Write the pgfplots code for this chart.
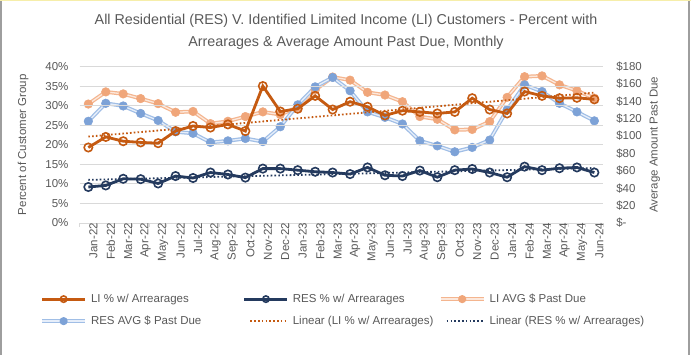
\documentclass[border=0pt]{standalone}
\usepackage{pgfplots}
\usepackage{pgfplotstable}
\pgfplotsset{compat=1.18}
\usepackage{fontspec}
\setmainfont{Liberation Sans}
\definecolor{txt}{RGB}{89,89,89}
\definecolor{grid}{RGB}{217,217,217}
\definecolor{LIc}{RGB}{197,90,17}
\definecolor{RESc}{RGB}{36,58,94}
\definecolor{LIavgO}{RGB}{244,181,143}
\definecolor{LIavgI}{RGB}{252,232,220}
\definecolor{LIavgM}{RGB}{240,166,122}
\definecolor{RESavgO}{RGB}{160,190,230}
\definecolor{RESavgI}{RGB}{230,238,250}
\definecolor{RESavgM}{RGB}{125,162,215}

\pgfplotstableread{
idx LIp RESp LIavg RESavg
0 19.3 9.2 136.8 117.0
1 22.0 9.6 150.8 137.7
2 20.9 11.3 148.5 134.6
3 20.6 11.2 143.1 126.0
4 20.4 10.1 137.3 117.9
5 23.5 12.0 127.4 104.9
6 24.8 11.5 128.3 103.1
7 24.4 12.9 114.3 92.7
8 25.2 12.4 117.0 94.5
9 23.5 11.6 122.4 97.2
10 35.0 13.9 127.8 93.6
11 28.5 13.9 124.7 110.7
12 29.2 13.5 133.2 135.9
13 32.5 13.1 153.0 156.6
14 29.0 12.9 167.9 167.4
15 31.0 12.5 164.3 152.1
16 29.7 14.2 150.3 127.8
17 27.5 12.2 147.2 121.5
18 28.7 12.0 139.5 113.9
19 28.4 13.4 122.4 94.5
20 28.0 11.7 119.3 88.7
21 28.4 13.5 107.1 81.9
22 31.9 13.8 107.6 86.9
23 29.0 12.9 116.6 95.4
24 28.0 11.7 144.5 130.1
25 33.6 14.4 168.3 158.9
26 32.5 13.5 169.2 151.2
27 31.9 14.0 158.9 137.7
28 32.0 14.2 152.1 127.8
29 31.6 12.9 143.6 117.5
}\data

\newcommand{\lblfont}{\fontsize{11.5bp}{13bp}\selectfont}
\pgfplotsset{
  common/.style={
    at={(79.6bp,132bp)}, anchor=south west,
    width=523.5bp, height=156.5bp, scale only axis,
    xmin=-0.5, xmax=29.5,
    axis line style={draw=none},
    tick label style={font=\lblfont, text=txt},
    major tick length=0pt,
    xtick=\empty, ytick pos=left,
    clip=false,
  },
  pct/.style={draw=#1, line width=2.8bp, mark=o, mark size=4.2bp,
    mark options={fill=white, draw=#1, line width=1.6bp}},
  trend/.style={draw=#1, line width=1.8bp, dash pattern=on 1.6bp off 2.2bp},
  leglines/.style={legend image code/.code={
    \draw[mark repeat=2, mark phase=2, ##1, mark size=3.2bp] plot coordinates {(0bp,0bp) (21.5bp,0bp) (43bp,0bp)};}},
  trendleg/.style={legend image code/.code={\draw[##1] (6bp,0bp) -- (43bp,0bp);}},
  avgleg/.style n args={3}{legend image code/.code={
    \draw[draw=#1, line width=3.8bp] (0bp,0bp) -- (43bp,0bp);
    \draw[draw=#2, line width=1.3bp] (0bp,0bp) -- (43bp,0bp);
    \fill[#3] (21.5bp,0bp) circle (3.4bp);}},
  avg/.style n args={3}{draw=#2, line width=1.3bp, mark=*, mark size=4.3bp,
    mark options={fill=#3, draw=#3, line width=0.5bp}, avgleg={#1}{#2}{#3}},
}

\begin{document}
\begin{tikzpicture}
\path[fill=white, use as bounding box] (0,0) rectangle (691bp,355bp);
\draw[draw=black!38, line width=1.2bp] (1bp,0bp) -- (1bp,354bp);
\draw[draw=black!38, line width=1.2bp] (689bp,0bp) -- (689bp,354bp);
\draw[draw={rgb,255:red,246;green,238;blue,170}, line width=1.5bp] (0bp,354.5bp) -- (691bp,354.5bp);
\node[font=\fontsize{14.3bp}{21.5bp}\selectfont, text=txt, align=center] at (346bp,323bp)
  {All Residential (RES) V. Identified Limited Income (LI) Customers - Percent with\\Arrearages \& Average Amount Past Due, Monthly};

% secondary ($) axis, drawn first (behind)
\begin{axis}[common,
  ymin=0, ymax=180, ytick={0,20,...,180}, ytick pos=right,
  yticklabels={\$-,\$20,\$40,\$60,\$80,\$100,\$120,\$140,\$160,\$180},
  yticklabel style={anchor=west, inner sep=0pt, xshift=13bp},
  ylabel={Average Amount Past Due},
  every axis y label/.style={at={(axis description cs:1.099,0.5)}, rotate=90, anchor=center, font=\lblfont, text=txt},
  leglines,
  legend columns=3,
  legend cell align=left,
  legend style={at={(axis description cs:-0.0756,-0.450)}, anchor=north west,
    draw=none, fill=none, inner sep=0pt, row sep=11bp,
    nodes={inner sep=0pt, font=\lblfont, text=txt, text height=8.6bp, text depth=2.4bp},
    /tikz/every odd column/.append style={column sep=4bp}},
]
\addlegendimage{pct=LIc}
\addlegendentry{\makebox[152bp][l]{LI \% w/ Arrearages}}
\addlegendimage{pct=RESc}
\addlegendentry{\makebox[146bp][l]{RES \% w/ Arrearages}}
\addplot[forget plot, draw=LIavgO, line width=3.8bp] table[x=idx, y=LIavg] {\data};
\addplot[avg={LIavgO}{LIavgI}{LIavgM}] table[x=idx, y=LIavg] {\data};
\addlegendentry{LI AVG \$ Past Due}
\addplot[forget plot, draw=RESavgO, line width=3.8bp] table[x=idx, y=RESavg] {\data};
\addplot[avg={RESavgO}{RESavgI}{RESavgM}] table[x=idx, y=RESavg] {\data};
\addlegendentry{RES AVG \$ Past Due}
\addlegendimage{trend=LIc, trendleg}
\addlegendentry{Linear (LI \% w/ Arrearages)}
\addlegendimage{trend=RESc, trendleg}
\addlegendentry{Linear (RES \% w/ Arrearages)}
\end{axis}

% primary (%) axis
\begin{axis}[common,
  ymin=0, ymax=40, ytick={0,5,...,40},
  yticklabels={0\%,5\%,10\%,15\%,20\%,25\%,30\%,35\%,40\%},
  yticklabel style={anchor=east, inner sep=0pt, xshift=-11bp},
  ymajorgrids, major grid style={draw=grid, line width=0.8bp},
  xtick={0,...,29},
  xticklabels={Jan-22,Feb-22,Mar-22,Apr-22,May-22,Jun-22,Jul-22,Aug-22,Sep-22,Oct-22,Nov-22,Dec-22,Jan-23,Feb-23,Mar-23,Apr-23,May-23,Jun-23,Jul-23,Aug-23,Sep-23,Oct-23,Nov-23,Dec-23,Jan-24,Feb-24,Mar-24,Apr-24,May-24,Jun-24},
  xtick pos=bottom,
  xticklabel style={rotate=90, anchor=east, inner sep=0pt, yshift=-5bp},
  minor xtick={-0.5,0.5,...,29.5},
  minor tick length=4bp,
  minor x tick style={draw=grid, line width=0.8bp},
  tick align=outside,
  ylabel={Percent of Customer Group},
  every axis y label/.style={at={(axis description cs:-0.108,0.5)}, rotate=90, anchor=center, font=\lblfont, text=txt},
]
\addplot[trend=LIc, forget plot] table[x=idx, y={create col/linear regression={y=LIp}}] {\data};
\addplot[trend=RESc, forget plot] table[x=idx, y={create col/linear regression={y=RESp}}] {\data};
\addplot[pct=LIc] table[x=idx, y=LIp] {\data};
\addplot[pct=RESc] table[x=idx, y=RESp] {\data};
\end{axis}
\end{tikzpicture}
\end{document}
